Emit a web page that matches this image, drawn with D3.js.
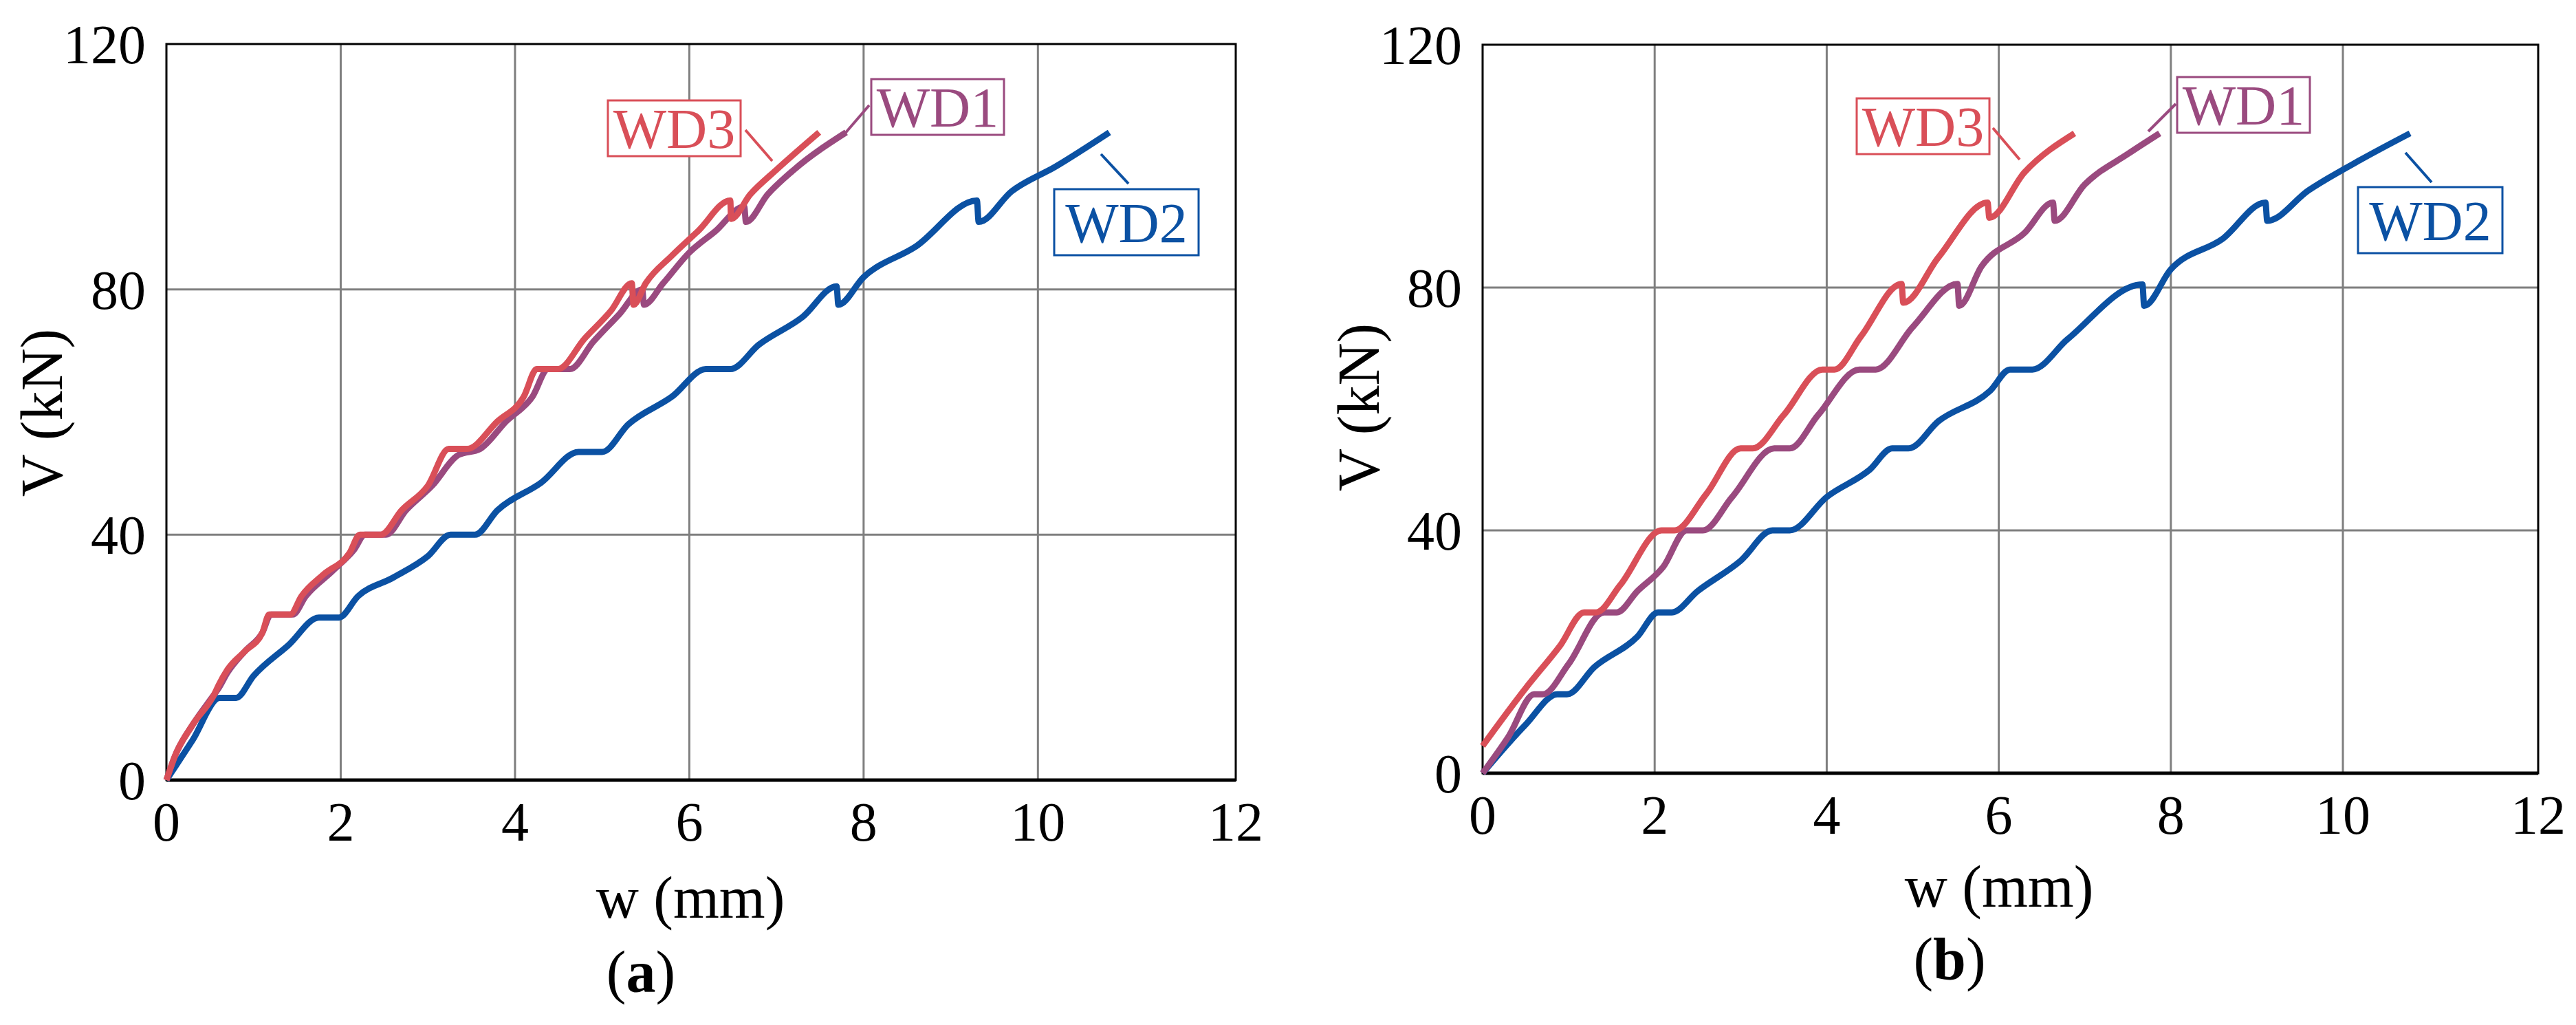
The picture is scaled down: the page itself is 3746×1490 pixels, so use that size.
<!DOCTYPE html>
<html>
<head>
<meta charset="utf-8">
<script src="https://cdn.jsdelivr.net/npm/d3@7"></script>
<style>body{margin:0;background:#fff}</style>
</head>
<body>
<div id="container"></div>
<script>
var xTicks = [0, 2, 4, 6, 8, 10, 12];
var yTicks = [0, 40, 80, 120];
var seriesNames = ["WD1", "WD2", "WD3"];
var colors = {WD1: "#9a4a7f", WD2: "#0b51a3", WD3: "#d94f58"};

// panel (a)
var a_WD3 = [[0,0],[0.1,4],[0.3,9],[0.55,14],[0.6,15.5],[0.7,18],[0.9,21],[1.1,24],[1.18,27],[1.42,27],[1.55,30],[1.8,33.5],[2.1,37],[2.22,40],[2.46,40],[2.7,44],[3.0,48],[3.24,54],[3.45,54],[3.8,58.5],[4.1,62.5],[4.25,67],[4.49,67],[4.8,72],[5.1,76.5],[5.34,81],[5.36,77.5],[5.5,81],[5.8,85.5],[6.1,89.5],[6.47,94.5],[6.48,91.5],[6.7,95.5],[7.0,99.5],[7.49,105.6]];
var a_WD1 = [[0,0],[0.1,4],[0.3,9],[0.55,14],[0.6,15],[0.7,17.5],[0.9,21],[1.1,24],[1.2,27],[1.45,27],[1.6,30],[1.9,34],[2.15,37.5],[2.28,40],[2.52,40],[2.75,44],[3.05,48],[3.35,53],[3.6,54],[3.9,58.5],[4.2,62.5],[4.38,67],[4.63,67],[4.9,71.5],[5.2,76],[5.46,80],[5.48,77.5],[5.7,81],[6.0,86],[6.3,89.5],[6.63,93.5],[6.65,91],[6.9,95.5],[7.2,99.5],[7.8,105.6]];
var a_WD2 = [[0,0],[0.3,6.5],[0.61,13.4],[0.8,13.4],[1.0,17],[1.4,22],[1.75,26.5],[1.98,26.5],[2.2,30],[2.6,33],[3.0,36.5],[3.26,40],[3.54,40],[3.8,44],[4.3,48.5],[4.73,53.5],[5.0,53.5],[5.3,58],[5.8,62.5],[6.19,67],[6.47,67],[6.8,71],[7.3,75.5],[7.69,80.5],[7.71,77.5],[8.0,82],[8.6,87],[9.3,94.5],[9.32,91],[9.7,96],[10.2,100],[10.82,105.6]];

// panel (b)
var b_WD3 = [[0,4.5],[0.5,14],[0.9,21],[1.18,26.5],[1.32,26.5],[1.6,31],[2.08,40],[2.23,40],[2.6,46],[3.0,53.5],[3.14,53.5],[3.5,59],[3.95,66.5],[4.09,66.5],[4.4,72],[4.87,80.6],[4.89,77.5],[5.3,85],[5.87,94],[5.89,91.5],[6.3,99],[6.88,105.4]];
var b_WD1 = [[0,0],[0.3,6],[0.6,13],[0.7,13],[1.0,18],[1.41,26.5],[1.56,26.5],[1.8,30],[2.1,34],[2.37,40],[2.56,40],[2.9,45.5],[3.39,53.5],[3.57,53.5],[3.9,59],[4.38,66.5],[4.57,66.5],[5.0,73.5],[5.52,80.6],[5.54,77],[5.8,83.5],[6.3,89],[6.63,94],[6.65,91],[7.0,97],[7.5,102],[7.87,105.4]];
var b_WD2 = [[0,0],[0.5,8],[0.87,13],[0.98,13],[1.3,17.5],[1.8,22.5],[2.04,26.5],[2.2,26.5],[2.5,30],[3.0,35],[3.37,40],[3.57,40],[4.0,45.5],[4.5,50],[4.76,53.5],[4.95,53.5],[5.3,58],[5.9,63],[6.13,66.5],[6.39,66.5],[6.8,71.5],[7.67,80.5],[7.69,77],[8.0,83],[8.6,88],[9.1,94],[9.12,91],[9.6,96],[10.2,101],[10.78,105.4]];

var panels = [
  {tag: "a", left: 242, right: 1797, top: 64, bottom: 1134, data: {WD1: a_WD1, WD2: a_WD2, WD3: a_WD3},
   yTitle: [60, 600], xTitle: [1004, 1334], cap: [932, 1442],
   labels: {WD3: [884, 146, 1084, 189, 1123, 234], WD1: [1267, 115, 1227, 196, 1264, 153], WD2: [1533, 275, 1601, 224, 1641, 267]}},
  {tag: "b", left: 2156, right: 3691, top: 65, bottom: 1124, data: {WD1: b_WD1, WD2: b_WD2, WD3: b_WD3},
   yTitle: [1975, 592], xTitle: [2907, 1318], cap: [2835, 1423],
   labels: {WD3: [2700, 143, 2898, 186, 2937, 232], WD1: [3166, 112, 3124, 191, 3164, 151], WD2: [3429, 272, 3498, 222, 3536, 265]}}
];

var svg = d3.select("#container").append("svg")
    .attr("width", 3746).attr("height", 1490)
    .style("font-family", "'Liberation Serif', 'DejaVu Serif', serif");

panels.forEach(function(p) {
  // frame border sits slightly beyond 12 mm, as in the original
  var x = d3.scaleLinear().domain([0, 12.27]).range([p.left, p.right]);
  var y = d3.scaleLinear().domain([0, 120]).range([p.bottom, p.top]);
  var g = svg.append("g");

  g.selectAll(".gx").data(xTicks.filter(function(d){ return d > 0 && d < 12; })).enter().append("line")
    .attr("x1", d => x(d)).attr("x2", d => x(d)).attr("y1", p.top).attr("y2", p.bottom)
    .attr("stroke", "#7f7f7f").attr("stroke-width", 3);
  g.selectAll(".gy").data(yTicks.filter(function(d){ return d > 0 && d < 120; })).enter().append("line")
    .attr("x1", p.left).attr("x2", p.right).attr("y1", d => y(d)).attr("y2", d => y(d))
    .attr("stroke", "#7f7f7f").attr("stroke-width", 3);
  g.append("rect").attr("x", p.left).attr("y", p.top)
    .attr("width", p.right - p.left).attr("height", p.bottom - p.top)
    .attr("fill", "none").attr("stroke", "#000").attr("stroke-width", 3);
  g.append("line").attr("x1", p.left).attr("x2", p.right).attr("y1", p.bottom).attr("y2", p.bottom)
    .attr("stroke", "#000").attr("stroke-width", 5);

  g.selectAll(".tx").data(xTicks).enter().append("text")
    .attr("x", d => d === 12 ? p.right : x(d)).attr("y", p.bottom + 88)
    .attr("text-anchor", "middle").attr("font-size", 80).text(d => d);
  g.selectAll(".ty").data(yTicks).enter().append("text")
    .attr("x", p.left - 30).attr("y", d => y(d)).attr("dy", "0.35em")
    .attr("text-anchor", "end").attr("font-size", 80).text(d => d);

  var line = d3.line().x(d => x(d[0])).y(d => y(d[1])).curve(d3.curveMonotoneX);
  ["WD2", "WD1", "WD3"].forEach(function(s) {
    g.append("path").datum(p.data[s]).attr("d", line)
      .attr("fill", "none").attr("stroke", colors[s]).attr("stroke-width", 9)
      .attr("stroke-linejoin", "round");
  });

  seriesNames.forEach(function(s) {
    var L = p.labels[s];
    var bw = s === "WD2" ? 210 : 193, bh = s === "WD2" ? 96 : 81;
    g.append("line").attr("x1", L[2]).attr("y1", L[3]).attr("x2", L[4]).attr("y2", L[5])
      .attr("stroke", colors[s]).attr("stroke-width", 4);
    g.append("rect").attr("x", L[0]).attr("y", L[1]).attr("width", bw).attr("height", bh)
      .attr("fill", "#fff").attr("stroke", colors[s]).attr("stroke-width", 3);
    g.append("text").attr("x", L[0] + bw / 2).attr("y", L[1] + bh / 2).attr("dy", "0.35em")
      .attr("text-anchor", "middle").attr("font-size", 82).attr("fill", colors[s]).text(s);
  });

  svg.append("text").attr("transform", "translate(" + p.yTitle[0] + "," + p.yTitle[1] + ") rotate(-90)")
    .attr("dy", "0.35em").attr("text-anchor", "middle").attr("font-size", 86).text("V (kN)");
  svg.append("text").attr("x", p.xTitle[0]).attr("y", p.xTitle[1])
    .attr("text-anchor", "middle").attr("font-size", 86).text("w (mm)");
  var cap = svg.append("text").attr("x", p.cap[0]).attr("y", p.cap[1])
    .attr("text-anchor", "middle").attr("font-size", 86);
  cap.append("tspan").text("(");
  cap.append("tspan").attr("font-weight", "bold").text(p.tag);
  cap.append("tspan").text(")");
});
</script>
</body>
</html>
